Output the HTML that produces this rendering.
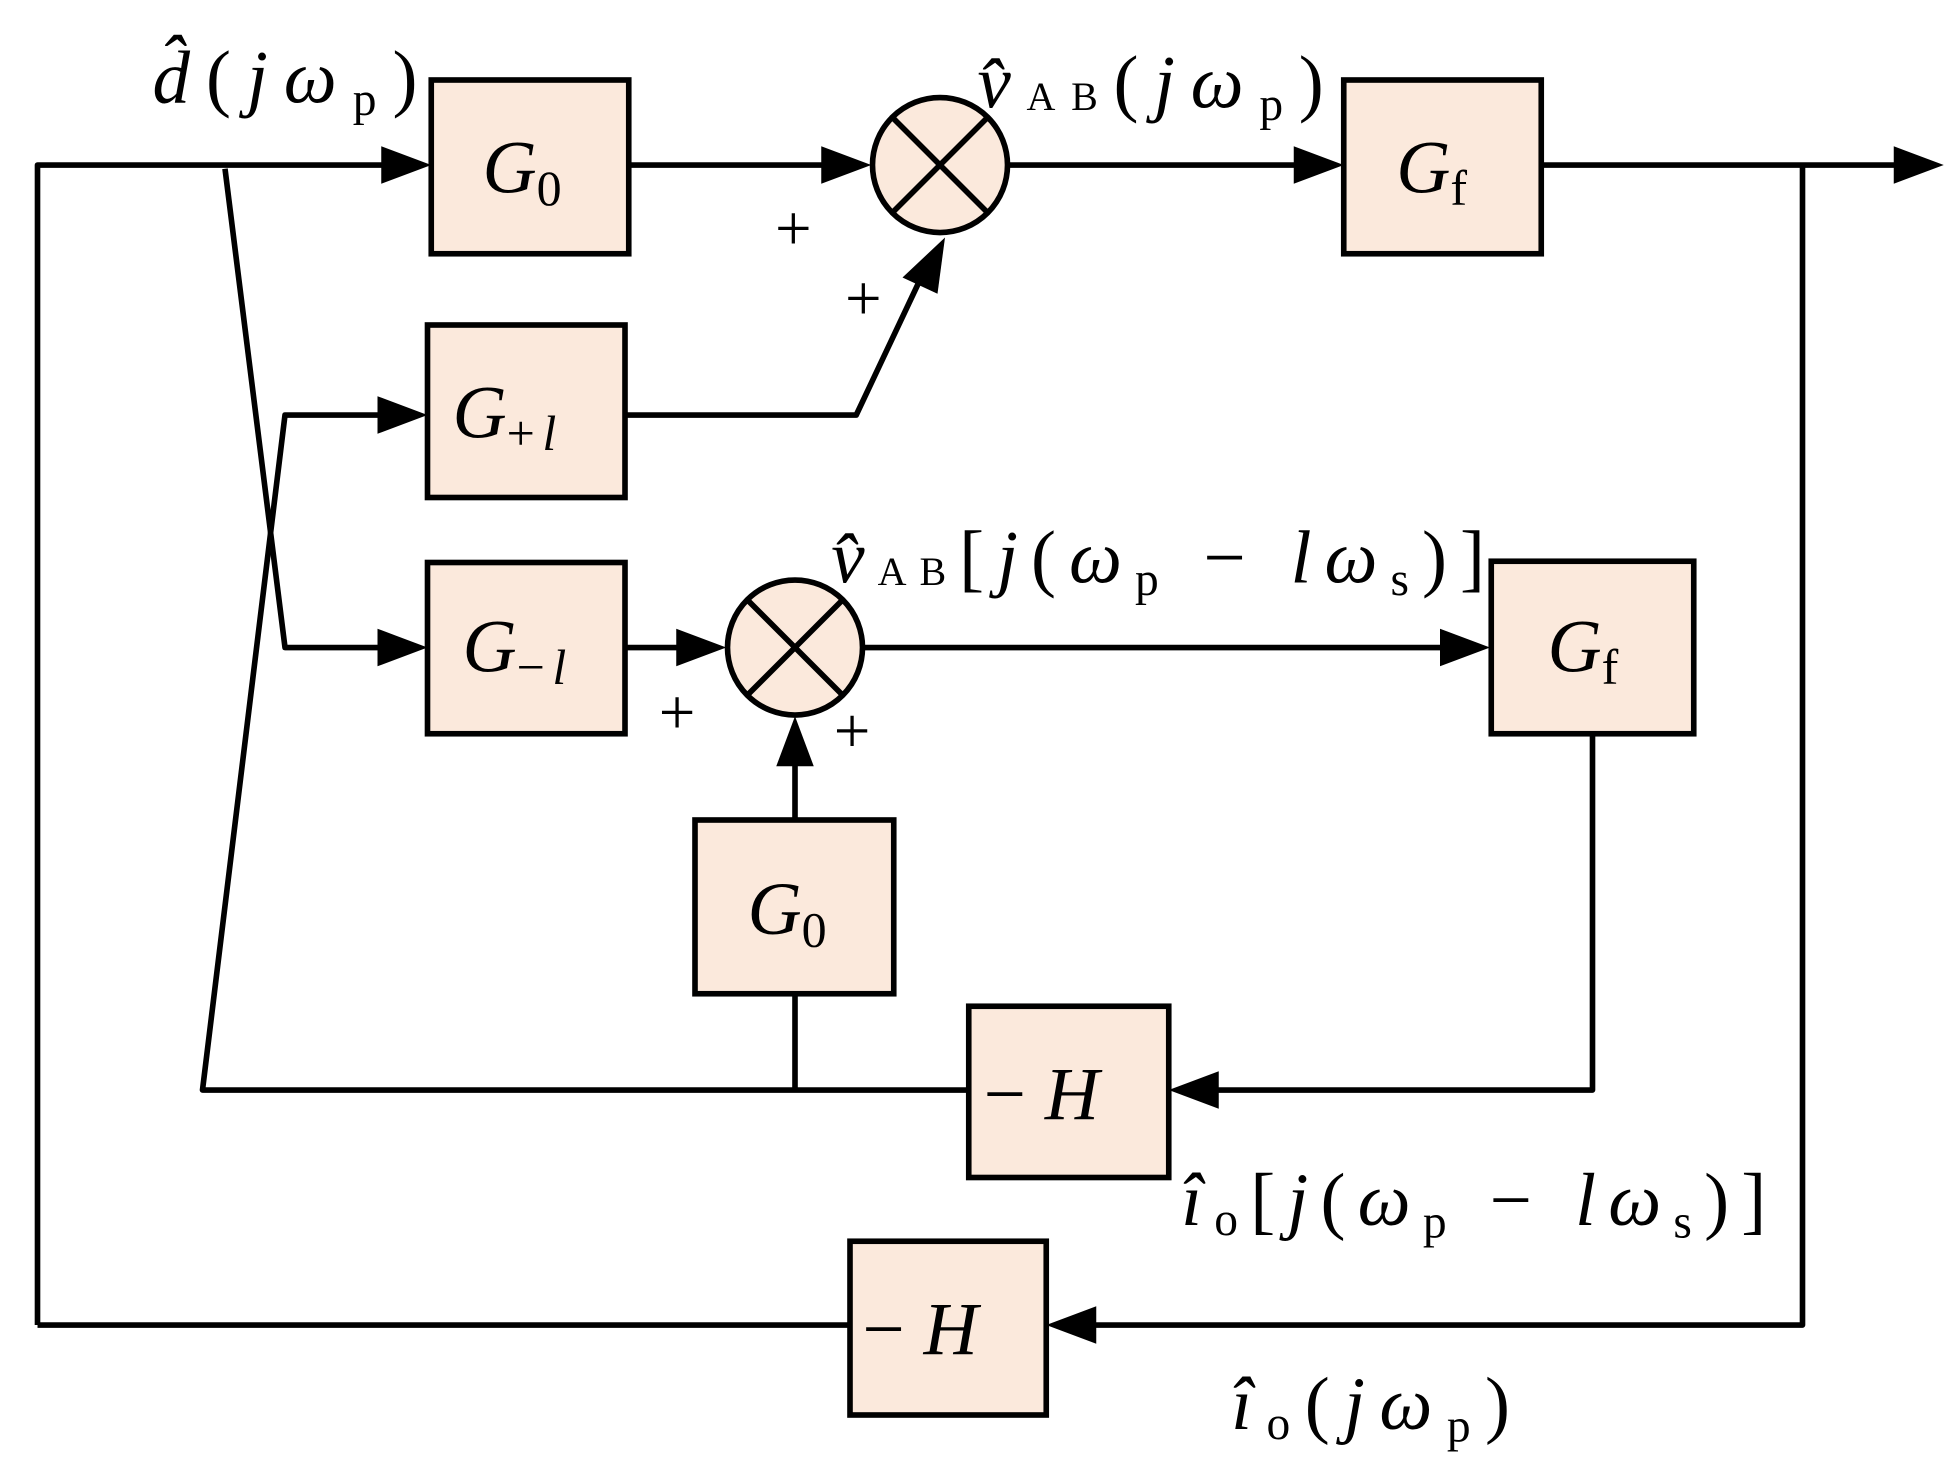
<!DOCTYPE html>
<html><head><meta charset="utf-8"><style>
html,body{margin:0;padding:0;background:#fff}
svg{display:block}
text{font-family:"Liberation Serif",serif;fill:#000}
</style></head><body>
<svg width="1960" height="1468" viewBox="0 0 1568 1174.4" xmlns="http://www.w3.org/2000/svg">
<g stroke="#000" stroke-width="4.5" fill="none" stroke-linejoin="round">
<polyline points="30,1060 30,132 310,132"/>
<line x1="503" y1="132" x2="660" y2="132"/>
<line x1="807" y1="132" x2="1040" y2="132"/>
<line x1="1233" y1="132" x2="1520" y2="132"/>
<polyline points="1442,132 1442,1060 875,1060"/>
<line x1="30" y1="1060" x2="680" y2="1060"/>
<polyline points="180,135 228,518 310,518"/>
<polyline points="310,332 228,332 162,872 775,872"/>
<polyline points="500,332 685,332 735,226"/>
<line x1="500" y1="518" x2="545" y2="518"/>
<line x1="691" y1="518" x2="1155" y2="518"/>
<polyline points="1274,587 1274,872 972,872"/>
<line x1="636" y1="656" x2="636" y2="610"/>
<line x1="636" y1="795" x2="636" y2="872"/>
</g>
<g fill="#000">
<polygon points="305,117 345,132 305,147"/>
<polygon points="657,117 697,132 657,147"/>
<polygon points="1035,117 1075,132 1035,147"/>
<polygon points="1515,117 1555,132 1515,147"/>
<polygon points="877,1045 837,1060 877,1075"/>
<polygon points="302,317 342,332 302,347"/>
<polygon points="302,503 342,518 302,533"/>
<polygon points="541,503 581,518 541,533"/>
<polygon points="1152,503 1192,518 1152,533"/>
<polygon points="975,857 935,872 975,887"/>
<polygon points="621,613 636,573 651,613"/>
<polygon points="722,222 756,190 750,235"/>
</g>
<g stroke="#000" stroke-width="4.5" fill="#fbe9dc">
<rect x="345" y="64" width="158" height="139"/>
<rect x="1075" y="64" width="158" height="139"/>
<rect x="342" y="260" width="158" height="138"/>
<rect x="342" y="450" width="158" height="137"/>
<rect x="1193" y="449" width="162" height="138"/>
<rect x="556" y="656" width="159" height="139"/>
<rect x="775" y="805" width="160" height="137"/>
<rect x="680" y="993" width="157" height="139"/>
</g>
<g stroke="#000" stroke-width="4.5" fill="#fbe9dc">
<circle cx="752" cy="132" r="54"/>
<line x1="714" y1="94" x2="790" y2="170"/><line x1="790" y1="94" x2="714" y2="170"/>
<circle cx="636" cy="518" r="54"/>
<line x1="598" y1="480" x2="674" y2="556"/><line x1="674" y1="480" x2="598" y2="556"/>
</g>
<g font-style="italic" font-size="60">
<text x="386" y="154">G<tspan font-style="normal" font-size="40" dy="10">0</tspan></text>
<text x="1117" y="154">G<tspan font-style="normal" font-size="40" dy="10">f</tspan></text>
<text x="362" y="350">G<tspan font-style="normal" font-size="40" dy="10">+</tspan><tspan font-size="40" dx="6">l</tspan></text>
<text x="370" y="537">G<tspan font-style="normal" font-size="40" dy="10">−</tspan><tspan font-size="40" dx="6">l</tspan></text>
<text x="1238" y="537">G<tspan font-style="normal" font-size="40" dy="10">f</tspan></text>
<text x="598" y="747">G<tspan font-style="normal" font-size="40" dy="10">0</tspan></text>
<text x="787" y="895"><tspan font-style="normal">−</tspan> H</text>
<text x="690" y="1083"><tspan font-style="normal">−</tspan> H</text>
</g>
<g font-size="52">
<text x="620" y="200">+</text>
<text x="676" y="256">+</text>
<text x="527" y="587">+</text>
<text x="667" y="602">+</text>
</g>
<g font-size="60" font-style="italic">
<text x="122" y="82" textLength="212" lengthAdjust="spacing">d̂<tspan font-style="normal">(</tspan>jω<tspan font-style="normal" font-size="38" dy="10">p</tspan><tspan font-style="normal" dy="-10">)</tspan></text>
<text x="782" y="86" textLength="277" lengthAdjust="spacing">v̂<tspan font-style="normal" font-size="32" dy="2">AB</tspan><tspan font-style="normal" dy="-2">(</tspan>jω<tspan font-style="normal" font-size="38" dy="10">p</tspan><tspan font-style="normal" dy="-10">)</tspan></text>
<text x="665" y="466" textLength="523" lengthAdjust="spacing">v̂<tspan font-style="normal" font-size="32" dy="2">AB</tspan><tspan font-style="normal" dy="-2">[</tspan>j<tspan font-style="normal">(</tspan>ω<tspan font-style="normal" font-size="38" dy="10">p</tspan><tspan font-style="normal" dy="-10"> − </tspan>lω<tspan font-style="normal" font-size="38" dy="10">s</tspan><tspan font-style="normal" dy="-10">)]</tspan></text>
<text x="945" y="980" textLength="468" lengthAdjust="spacing">î<tspan font-style="normal" font-size="38" dy="8">o</tspan><tspan font-style="normal" dy="-8">[</tspan>j<tspan font-style="normal">(</tspan>ω<tspan font-style="normal" font-size="38" dy="10">p</tspan><tspan font-style="normal" dy="-10"> − </tspan>lω<tspan font-style="normal" font-size="38" dy="10">s</tspan><tspan font-style="normal" dy="-10">)]</tspan></text>
<text x="985" y="1143" textLength="223" lengthAdjust="spacing">î<tspan font-style="normal" font-size="38" dy="8">o</tspan><tspan font-style="normal" dy="-8">(</tspan>jω<tspan font-style="normal" font-size="38" dy="10">p</tspan><tspan font-style="normal" dy="-10">)</tspan></text>
</g>
</svg>
</body></html>
